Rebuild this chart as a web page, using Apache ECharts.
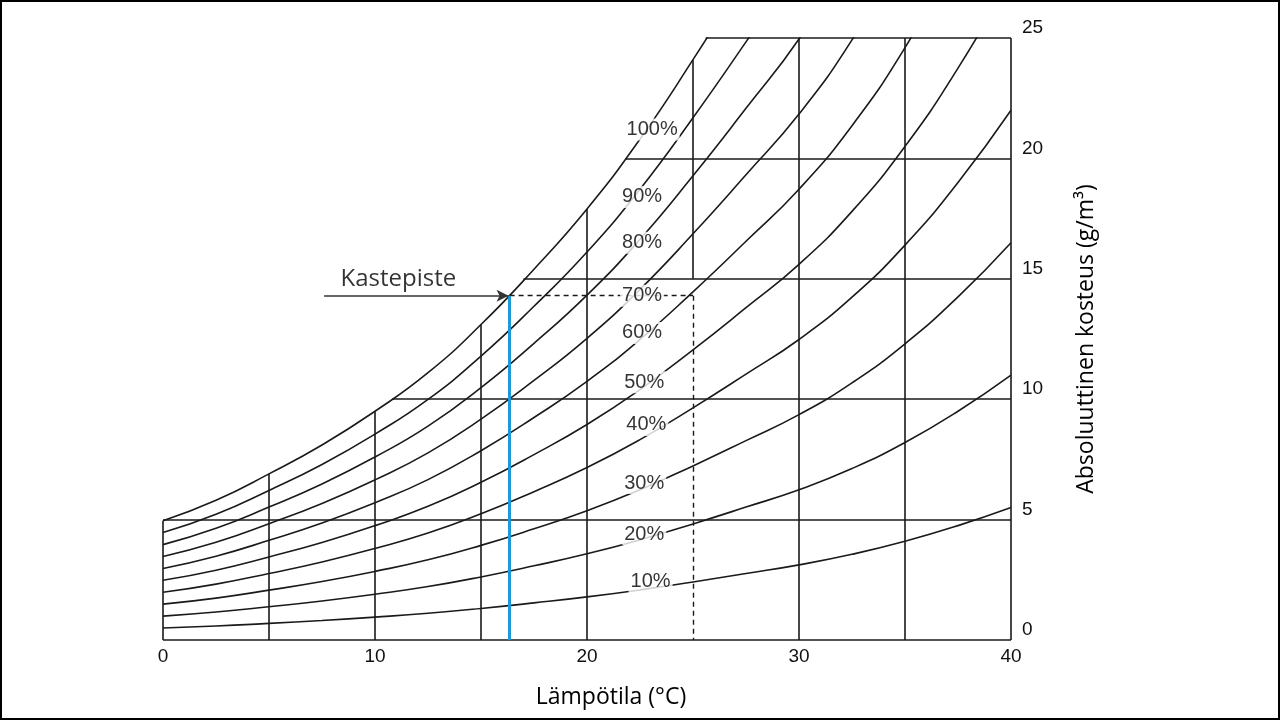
<!DOCTYPE html>
<html>
<head>
<meta charset="utf-8">
<style>
  html, body { margin: 0; padding: 0; background: #fff; }
  #chart { width: 1280px; height: 720px; }
</style>
<script src="https://cdn.jsdelivr.net/npm/echarts@6/dist/echarts.min.js"></script>
</head>
<body>
<div id="chart"></div>
<script>
// ---- data ----
const temps = [0, 2.5, 5, 7.5, 10, 12.5, 15, 17.5, 20, 22.5, 25, 27.5, 30, 32.5, 35, 37.5, 40];
const rh100 = [4.95, 5.8, 6.9, 8.1, 9.5, 11.1, 13.1, 15.4, 17.9, 20.8, 24.1, 27.6];
const rh90 = [4.46, 5.22, 6.21, 7.29, 8.55, 9.99, 11.79, 13.86, 16.11, 18.72, 21.69, 24.84, 28.08];
const rh80 = [3.96, 4.64, 5.52, 6.48, 7.6, 8.88, 10.48, 12.32, 14.32, 16.64, 19.28, 22.08, 24.96, 28.48];
const rh70 = [3.47, 4.06, 4.83, 5.67, 6.65, 7.77, 9.17, 10.78, 12.53, 14.56, 16.87, 19.32, 21.84, 24.92, 28.7];
const rh60 = [2.97, 3.48, 4.14, 4.86, 5.7, 6.66, 7.86, 9.24, 10.74, 12.48, 14.46, 16.56, 18.72, 21.36, 24.6, 28.5];
const rh50 = [2.48, 2.9, 3.45, 4.05, 4.75, 5.55, 6.55, 7.7, 8.95, 10.4, 12.05, 13.8, 15.6, 17.8, 20.5, 23.75, 27.5];
const rh40 = [1.98, 2.32, 2.76, 3.24, 3.8, 4.44, 5.24, 6.16, 7.16, 8.32, 9.64, 11.04, 12.48, 14.24, 16.4, 19.0, 22.0];
const rh30 = [1.49, 1.74, 2.07, 2.43, 2.85, 3.33, 3.93, 4.62, 5.37, 6.24, 7.23, 8.28, 9.36, 10.68, 12.3, 14.25, 16.5];
const rh20 = [0.99, 1.16, 1.38, 1.62, 1.9, 2.22, 2.62, 3.08, 3.58, 4.16, 4.82, 5.52, 6.24, 7.12, 8.2, 9.5, 11.0];
const rh10 = [0.5, 0.58, 0.69, 0.81, 0.95, 1.11, 1.31, 1.54, 1.79, 2.08, 2.41, 2.76, 3.12, 3.56, 4.1, 4.75, 5.5];

const pctNames = ['100%', '90%', '80%', '70%', '60%', '50%', '40%', '30%', '20%', '10%'];
const pctLabelT = [23.07, 22.6, 22.6, 22.6, 22.6, 22.7, 22.8, 22.7, 22.7, 23.0];
const pctLabelV = [21.2, 18.4, 16.5, 14.3, 12.75, 10.7, 8.93, 6.52, 4.4, 2.41];

// grid lines of the chart (clipped by the 100 % curve)
const vGridT = [0, 5, 10, 15, 20, 25, 30, 35, 40];
const vGridTop = [4.95, 6.9, 9.5, 13.1, 17.9, 24.1, 25, 25, 25];
const vGridBottom = [0, 0, 0, 0, 0, 15, 0, 0, 0];
const hGridV = [0, 5, 10, 15, 20, 25];
const hGridStart = [0, 0, 10.8, 17.0, 21.8, 25.6];
const hGridEnd = [40, 40, 40, 40, 40, 40];

// dew point example
const dewT = 16.35;
const dewV = 14.3;
const airT = 25;
const arrowStartT = 7.6;
const calloutText = 'Kastepiste';
const calloutPos = [11.1, 15.0];

const xTicks = [0, 10, 20, 30, 40];
const yTicks = [0, 5, 10, 15, 20, 25];

// ---- chart ----
const ink = '#1a1a1a';
const curves = [rh100, rh90, rh80, rh70, rh60, rh50, rh40, rh30, rh20, rh10];

const series = curves.map((vals, k) => ({
  name: pctNames[k],
  type: 'line',
  smooth: 0.5,
  showSymbol: false,
  silent: true,
  clip: true,
  z: 2,
  lineStyle: { color: ink, width: 1.6 },
  data: vals.map((v, i) => [temps[i], v])
}));

const gridSegs = [];
vGridT.forEach((t, i) => gridSegs.push([{ coord: [t, vGridBottom[i]] }, { coord: [t, vGridTop[i]] }]));
hGridV.forEach((v, i) => gridSegs.push([{ coord: [hGridStart[i], v] }, { coord: [hGridEnd[i], v] }]));

series.push({
  type: 'line', data: [], silent: true, clip: false, z: 2,
  markLine: {
    silent: true, symbol: ['none', 'none'], label: { show: false }, animation: false,
    lineStyle: { color: ink, width: 1.6, type: 'solid' },
    data: gridSegs
  }
});

// dashed helper lines
series.push({
  type: 'line', data: [], silent: true, clip: false, z: 3,
  markLine: {
    silent: true, symbol: ['none', 'none'], label: { show: false }, animation: false,
    lineStyle: { color: ink, width: 1.4, type: [5, 4] },
    data: [
      [{ coord: [dewT, dewV] }, { coord: [airT, dewV] }],
      [{ coord: [airT, dewV] }, { coord: [airT, 0] }]
    ]
  }
});

// blue dew point line
series.push({
  type: 'line', data: [], silent: true, clip: false, z: 6,
  markLine: {
    silent: true, symbol: ['none', 'none'], label: { show: false }, animation: false,
    lineStyle: { color: '#1c9ad6', width: 3, type: 'solid' },
    data: [[{ coord: [dewT, dewV] }, { coord: [dewT, 0] }]]
  }
});

// arrow
series.push({
  type: 'line', data: [], silent: true, clip: false, z: 6,
  markLine: {
    silent: true, symbol: ['none', 'arrow'], symbolSize: [9, 12], label: { show: false }, animation: false,
    lineStyle: { color: '#333', width: 1.5, type: 'solid' },
    data: [[{ coord: [arrowStartT, dewV] }, { coord: [dewT - 0.05, dewV] }]]
  }
});

// percentage labels on the curves
series.push({
  type: 'scatter', symbolSize: 0, silent: true, clip: false, z: 8,
  label: {
    show: true, position: 'inside', formatter: p => p.name,
    fontFamily: 'Liberation Sans, Arial, sans-serif', fontSize: 20, color: '#000',
    backgroundColor: '#ffffff', padding: [1, 2]
  },
  data: pctNames.map((n, i) => ({ name: n, value: [pctLabelT[i], pctLabelV[i]] }))
});

// callout text
series.push({
  type: 'scatter', symbolSize: 0, silent: true, clip: false, z: 8,
  label: {
    show: true, position: 'inside', formatter: p => p.name,
    fontFamily: 'Open Sans, sans-serif', fontSize: 24, color: '#000'
  },
  data: [{ name: calloutText, value: calloutPos }]
});

const chart = echarts.init(document.getElementById('chart'), null, { renderer: 'canvas' });
chart.setOption({
  animation: false,
  backgroundColor: '#ffffff',
  grid: { left: 163, right: 269, top: 38, bottom: 80, containLabel: false },
  xAxis: {
    type: 'value', min: 0, max: 40, interval: 10,
    axisLine: { show: false }, axisTick: { show: false }, splitLine: { show: false },
    axisLabel: {
      margin: 7, fontSize: 19, color: '#111', fontFamily: 'Liberation Sans, Arial, sans-serif',
      formatter: v => (xTicks.includes(v) ? String(v) : '')
    },
    name: 'Lämpötila (°C)', nameLocation: 'middle', nameGap: 46,
    nameTextStyle: { fontFamily: 'Open Sans, sans-serif', fontSize: 23, color: '#000', padding: [0, 0, 0, 48] }
  },
  yAxis: {
    type: 'value', position: 'right', min: 0, max: 25, interval: 5,
    axisLine: { show: false }, axisTick: { show: false }, splitLine: { show: false },
    axisLabel: {
      margin: 11, fontSize: 19, color: '#111', verticalAlign: 'bottom', lineHeight: 20,
      fontFamily: 'Liberation Sans, Arial, sans-serif',
      formatter: v => (yTicks.includes(v) ? String(v) : '')
    },
    name: 'Absoluuttinen kosteus (g/m³)', nameLocation: 'middle', nameRotate: 90, nameGap: 64,
    nameTextStyle: { fontFamily: 'Open Sans, sans-serif', fontSize: 23, color: '#000', padding: [0, 0, 18, 0] }
  },
  graphic: [{
    type: 'rect', silent: true, z: 100,
    shape: { x: 1, y: 1, width: 1278, height: 718 },
    style: { fill: 'none', stroke: '#000', lineWidth: 2 }
  }],
  series: series
});
</script>
</body>
</html>
